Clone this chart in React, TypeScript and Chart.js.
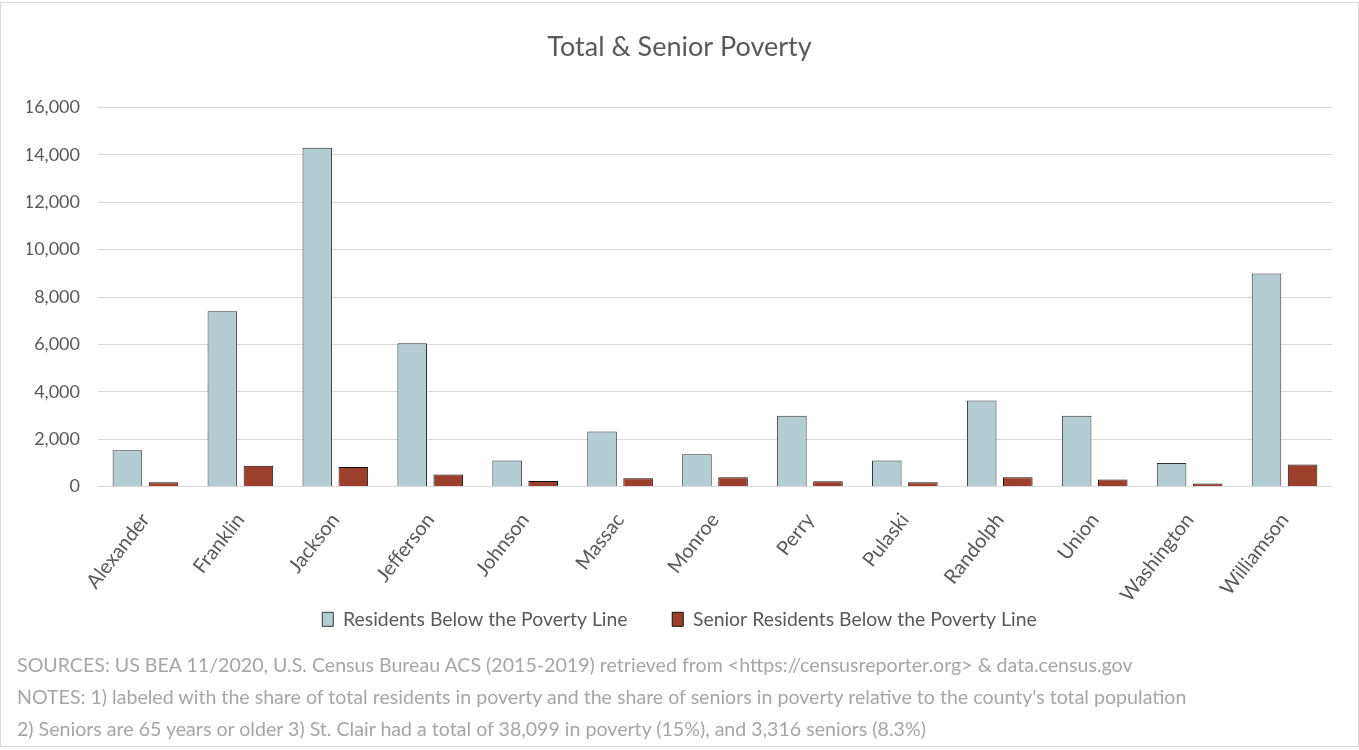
import React, { useEffect, useRef } from "react";
import Chart from "chart.js/auto";

const categories = ["Alexander", "Franklin", "Jackson", "Jefferson", "Johnson", "Massac", "Monroe", "Perry", "Pulaski", "Randolph", "Union", "Washington", "Williamson"];
const totalPoverty = [1530, 7400, 14300, 6050, 1100, 2330, 1360, 2990, 1100, 3630, 2990, 1000, 8990];
const seniorPoverty = [180, 880, 830, 510, 240, 350, 390, 230, 180, 390, 300, 130, 930];
const seriesNames = ["Residents Below the Poverty Line", "Senior Residents Below the Poverty Line"];
const chartTitle = "Total & Senior Poverty";
const notes = [
  "SOURCES: US BEA 11/2020, U.S. Census Bureau ACS (2015-2019) retrieved from <https://censusreporter.org> & data.census.gov",
  "NOTES: 1) labeled with the share of total residents in poverty and the share of seniors in poverty relative to the county's total population",
  "2) Seniors are 65 years or older 3) St. Clair had a total of 38,099 in poverty (15%), and 3,316 seniors (8.3%)",
];

const FONT = "Lato, 'Open Sans', sans-serif";
const LEGEND_SIZE = 19.4;

export default function App() {
  const ref = useRef<HTMLCanvasElement | null>(null);
  useEffect(() => {
    if (!ref.current) return;
    const chart = new Chart(ref.current, {
      type: "bar",
      data: {
        labels: categories,
        datasets: [
          {
            label: seriesNames[0],
            data: totalPoverty,
            backgroundColor: "#b4cdd3",
            borderColor: "#333333",
            borderWidth: 1,
            categoryPercentage: 0.76,
            barPercentage: 0.82,
          },
          {
            label: seriesNames[1],
            data: seniorPoverty,
            backgroundColor: "#9c3f2c",
            borderColor: "#111111",
            borderWidth: 1,
            categoryPercentage: 0.76,
            barPercentage: 0.82,
          },
        ],
      },
      options: {
        animation: false,
        responsive: true,
        maintainAspectRatio: false,
        layout: { padding: { left: 27, right: 27, top: 0, bottom: 111 } },
        plugins: {
          title: {
            display: true,
            text: chartTitle,
            color: "#595959",
            font: { family: FONT, size: 27, weight: "normal" },
            padding: { top: 31, bottom: 44 },
          },
          legend: {
            position: "bottom",
            labels: {
              color: "#595959",
              font: { family: FONT, size: LEGEND_SIZE },
              boxWidth: 11,
              boxHeight: 14,
              padding: 0,
              generateLabels: (c: any) => {
                const items = Chart.defaults.plugins.legend.labels.generateLabels(c);
                const ctx = c.ctx;
                ctx.save();
                ctx.font = `${LEGEND_SIZE}px ${FONT}`;
                const sp = ctx.measureText(" ").width || 5;
                ctx.restore();
                const n = Math.max(1, Math.round(46 / sp));
                items.forEach((it: any, i: number) => {
                  if (i < items.length - 1) it.text = it.text + " ".repeat(n);
                });
                return items;
              },
            },
          },
          tooltip: { enabled: false },
        },
        scales: {
          x: {
            grid: { display: false, drawTicks: false },
            border: { display: false },
            ticks: {
              color: "#595959",
              font: { family: FONT, size: 20 },
              minRotation: 52,
              maxRotation: 52,
              padding: 22,
            },
            afterFit: (s: any) => {
              s.height = 123;
            },
          },
          y: {
            min: 0,
            max: 16000,
            grid: { color: "#d9d9d9", lineWidth: 1, drawTicks: false },
            border: { display: false },
            ticks: {
              stepSize: 2000,
              color: "#595959",
              font: { family: FONT, size: 18 },
              padding: 18,
              callback: (v: any) => Number(v).toLocaleString("en-US"),
            },
            afterFit: (s: any) => {
              s.width = 71;
            },
          },
        },
      },
    });
    return () => chart.destroy();
  }, []);

  return (
    <div style={{ position: "absolute", left: 0, top: 0, width: 1359, height: 750, background: "#fff" }}>
      <div style={{ position: "absolute", left: 0, top: 2, width: 1357, height: 743, border: "1px solid #d9d9d9" }} />
      <div style={{ position: "absolute", left: 0, top: 0, width: 1359, height: 750 }}>
        <canvas ref={ref} />
      </div>
      {notes.map((n, i) => (
        <div
          key={i}
          style={{
            position: "absolute",
            left: 17,
            top: 651 + i * 32,
            fontFamily: FONT,
            fontSize: 19.6,
            lineHeight: "28px",
            color: "#a6a6a6",
            whiteSpace: "nowrap",
          }}
        >
          {n}
        </div>
      ))}
    </div>
  );
}
